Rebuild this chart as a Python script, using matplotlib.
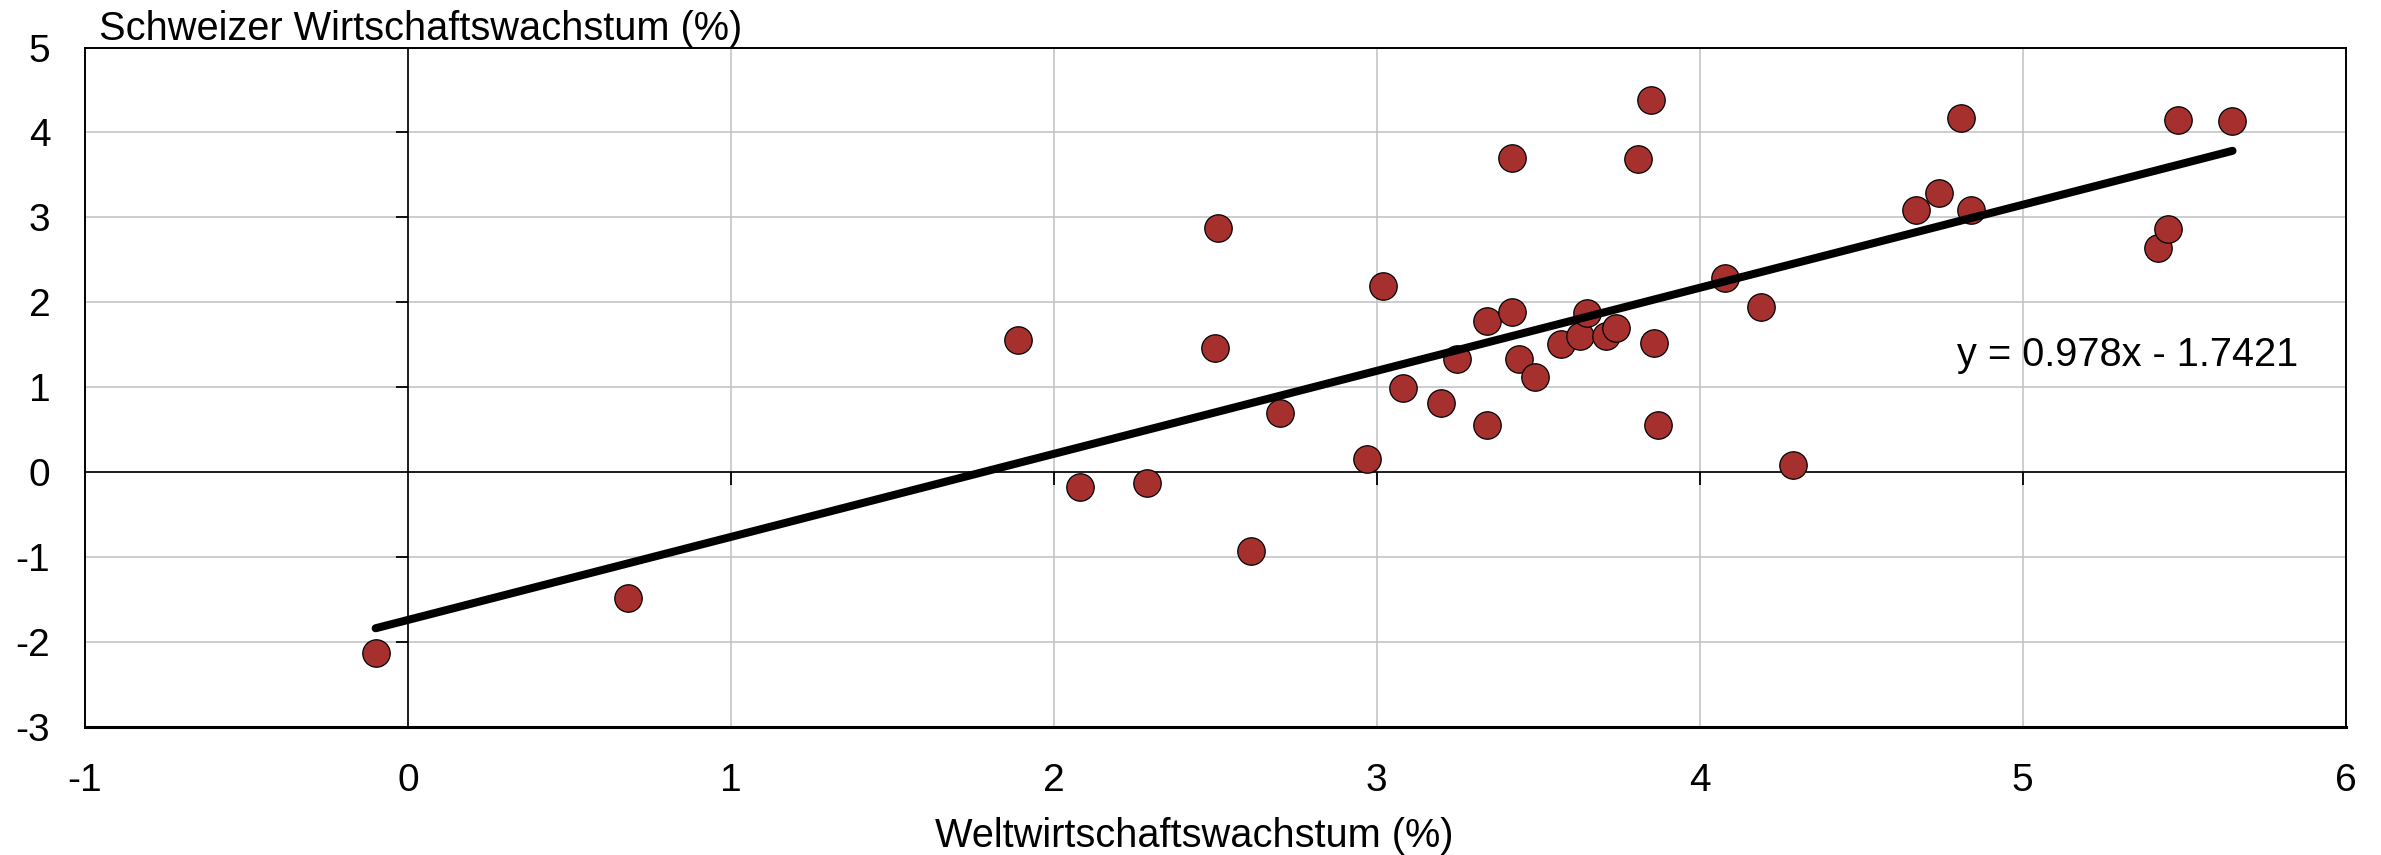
import numpy as np
import matplotlib
matplotlib.use('Agg')
import matplotlib.pyplot as plt

plt.rcParams['font.family'] = ['Liberation Sans', 'DejaVu Sans']
plt.rcParams['axes.unicode_minus'] = False

# Weltwirtschaftswachstum (x) vs. Schweizer Wirtschaftswachstum (y), in %
welt = [-0.10, 0.68, 1.89, 2.51, 2.50, 2.08, 2.29, 2.61, 2.70, 2.97,
        3.02, 3.08, 3.20, 3.25, 3.34, 3.34, 3.42, 3.42, 3.44, 3.49,
        3.57, 3.63, 3.65, 3.71, 3.74, 3.81, 3.85, 3.86, 3.87, 4.08,
        4.19, 4.29, 4.67, 4.74, 4.81, 4.84, 5.42, 5.45, 5.48, 5.65]
schweiz = [-2.13, -1.48, 1.56, 2.87, 1.46, -0.18, -0.13, -0.93, 0.70, 0.15,
           2.19, 0.99, 0.81, 1.33, 1.78, 0.56, 1.89, 3.70, 1.33, 1.12,
           1.51, 1.60, 1.87, 1.60, 1.70, 3.69, 4.38, 1.52, 0.55, 2.28,
           1.94, 0.08, 3.09, 3.29, 4.17, 3.09, 2.64, 2.86, 4.15, 4.14]

slope = 0.978
intercept = -1.7421
x_ticks = [-1, 0, 1, 2, 3, 4, 5, 6]
y_ticks = [-3, -2, -1, 0, 1, 2, 3, 4, 5]

fig = plt.figure(figsize=(23.81, 8.55), dpi=100)
ax = fig.add_axes([0.0357, 0.150, 0.9494, 0.7944])

ax.set_xlim(-1, 6)
ax.set_ylim(-3, 5)
ax.set_xticks(x_ticks)
ax.set_yticks(y_ticks)
ax.grid(True, color='#c0c0c0', lw=1.1)
ax.set_axisbelow(True)
ax.tick_params(length=0, labelsize=28)
ax.tick_params(axis='x', pad=26)
ax.tick_params(axis='y', pad=25)

for side in ['left', 'right', 'top']:
    ax.spines[side].set_linewidth(1.4)
ax.spines['bottom'].set_linewidth(2.2)

# Achsen durch den Nullpunkt
ax.axhline(0, color='black', lw=1.2, zorder=2)
ax.axvline(0, color='black', lw=1.2, zorder=2)
xt = [t for t in x_ticks if t not in (-1, 0)]
yt = [t for t in y_ticks if t not in (-3, 0, 5)]
ax.plot(xt, np.zeros(len(xt)), ls='none', marker=3, ms=9, mew=1.3, color='black', zorder=2)
ax.plot(np.zeros(len(yt)), yt, ls='none', marker=0, ms=9, mew=1.3, color='black', zorder=2)

ax.scatter(welt, schweiz, s=390, color='#a5302e', edgecolors='black', linewidths=0.9, zorder=3)

xs = np.array([min(welt), max(welt)])
ax.plot(xs, slope * xs + intercept, color='black', lw=5.8, solid_capstyle='round', zorder=4)

ax.text(5.855, 1.375, 'y = %.3fx - %.4f' % (slope, -intercept), fontsize=28.6,
        ha='right', va='center', zorder=5)

ax.text(0.006, 1.011, 'Schweizer Wirtschaftswachstum (%)', transform=ax.transAxes,
        fontsize=28.6, ha='left', va='baseline')
fig.text(1194 / 2381, 0.0097, 'Weltwirtschaftswachstum (%)', fontsize=28.6,
         ha='center', va='baseline')

fig.savefig('out.png', dpi=100)
